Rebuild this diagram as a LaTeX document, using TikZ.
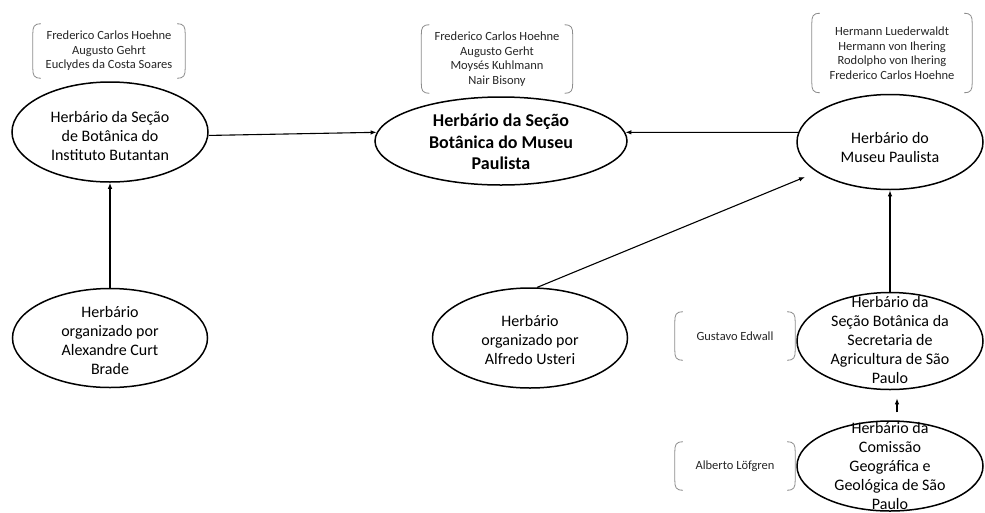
\documentclass[tikz,border=0pt]{standalone}
\usepackage{fontspec}
\setmainfont{Carlito}
\usetikzlibrary{arrows.meta,shapes.geometric,calc}
\newcommand\bracketsof[1]{%
  \draw[brk] ($(#1.north west)+(8,0)$) .. controls ($(#1.north west)+(1,0)$) and ($(#1.north west)+(0,3)$) .. ($(#1.north west)+(0,10)$)
    -- ($(#1.south west)+(0,-10)$) .. controls ($(#1.south west)+(0,-3)$) and ($(#1.south west)+(1,0)$) .. ($(#1.south west)+(8,0)$);
  \draw[brk] ($(#1.north east)+(-8,0)$) .. controls ($(#1.north east)+(-1,0)$) and ($(#1.north east)+(0,3)$) .. ($(#1.north east)+(0,10)$)
    -- ($(#1.south east)+(0,-10)$) .. controls ($(#1.south east)+(0,-3)$) and ($(#1.south east)+(-1,0)$) .. ($(#1.south east)+(-8,0)$);
}
\begin{document}
\begin{tikzpicture}[x=1pt,y=-1pt,
  ell/.style={draw, ellipse, line width=1.5pt, inner sep=0pt},
  lbl/.style={align=center, inner sep=0pt, font=\fontsize{16}{19}\selectfont},
  lblb/.style={align=center, inner sep=0pt, font=\fontsize{18}{21.5}\selectfont\bfseries},
  names/.style={align=center, inner sep=0pt, text=black!85, font=\fontsize{12.5}{14.5}\selectfont},
  brk/.style={draw=black!45, line width=0.8pt},
  arr/.style={-{Latex[length=6pt,width=4.5pt]}, line width=1.1pt}]
\useasboundingbox[fill=white] (0,0) rectangle (985,512);

% ellipses
\node[ell, minimum width=196pt, minimum height=100pt] (e1) at (110,132) {};
\node[ell, minimum width=252pt, minimum height=88pt] (e2) at (501,141) {};
\node[ell, minimum width=186pt, minimum height=95pt] (e3) at (890,142) {};
\node[ell, minimum width=195pt, minimum height=99pt] (e4) at (110,338) {};
\node[ell, minimum width=195pt, minimum height=100pt] (e5) at (530,338) {};
\node[ell, minimum width=186pt, minimum height=97pt] (e6) at (890,341) {};
\node[ell, minimum width=186pt, minimum height=90pt] (e7) at (890,466) {};

% labels
\node[lbl] (t1) at (110,136) {Herbário da Seção\\de Botânica do\\Instituto Butantan};
\node[lblb] (t2) at (501,142) {Herbário da Seção\\Botânica do Museu\\Paulista};
\node[lbl] (t3) at (890,147) {Herbário do\\Museu Paulista};
\node[lbl] (t4) at (110,340) {Herbário\\organizado por\\Alexandre Curt\\Brade};
\node[lbl] (t5) at (530,340) {Herbário\\organizado por\\Alfredo Usteri};
\node[lbl] (t6) at (890,340) {Herbário da\\Seção Botânica da\\Secretaria de\\Agricultura de São\\Paulo};
\node[lbl] (t7) at (890,466) {Herbário da\\Comissão\\Geográfica e\\Geológica de São\\Paulo};

% name groups
\node[names, minimum width=152pt, minimum height=54pt] (b1) at (109,51) {Frederico Carlos Hoehne\\Augusto Gehrt\\Euclydes da Costa Soares};
\node[names, minimum width=151pt, minimum height=68pt] (b2) at (497,59) {Frederico Carlos Hoehne\\Augusto Gerht\\Moysés Kuhlmann\\Nair Bisony};
\node[names, minimum width=160pt, minimum height=79pt] (b3) at (892,53) {Hermann Luederwaldt\\Hermann von Ihering\\Rodolpho von Ihering\\Frederico Carlos Hoehne};
\node[names, minimum width=120pt, minimum height=48pt] (b6) at (735,336) {Gustavo Edwall};
\node[names, minimum width=120pt, minimum height=48pt] (b7) at (735,466) {Alberto Löfgren};
\bracketsof{b1}
\bracketsof{b2}
\bracketsof{b3}
\bracketsof{b6}
\bracketsof{b7}

% connectors
\coordinate (utip) at (805,177);
\draw[arr] (e1.-2) -- (e2.176);
\draw[arr] (e3.174) -- (e2.4);
\draw[arr] (e4.north) -- (e1.south);
\draw[arr] (e5.82) -- (utip);
\draw[arr] (e6.north) -- (e3.south);
\draw[arr, shorten <=8pt, shorten >=8pt] ([xshift=7pt]e7.north) -- ([xshift=7pt]e6.south);
\end{tikzpicture}
\end{document}
